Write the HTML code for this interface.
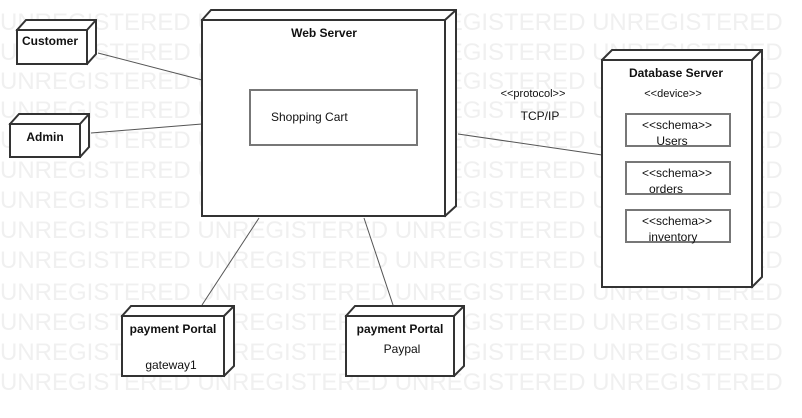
<!DOCTYPE html>
<html><head><meta charset="utf-8"><style>body{margin:0;background:#fff}svg{display:block}</style></head><body>
<svg width="802" height="418" xmlns="http://www.w3.org/2000/svg" font-family="Liberation Sans, sans-serif">
<g fill="#f0f0f0" font-size="24">
<text x="0" y="30">UNREGISTERED UNREGISTERED UNREGISTERED UNREGISTERED</text>
<text x="0" y="60">UNREGISTERED UNREGISTERED UNREGISTERED UNREGISTERED</text>
<text x="0" y="89">UNREGISTERED UNREGISTERED UNREGISTERED UNREGISTERED</text>
<text x="0" y="118">UNREGISTERED UNREGISTERED UNREGISTERED UNREGISTERED</text>
<text x="0" y="148">UNREGISTERED UNREGISTERED UNREGISTERED UNREGISTERED</text>
<text x="0" y="178">UNREGISTERED UNREGISTERED UNREGISTERED UNREGISTERED</text>
<text x="0" y="208">UNREGISTERED UNREGISTERED UNREGISTERED UNREGISTERED</text>
<text x="0" y="238">UNREGISTERED UNREGISTERED UNREGISTERED UNREGISTERED</text>
<text x="0" y="268">UNREGISTERED UNREGISTERED UNREGISTERED UNREGISTERED</text>
<text x="0" y="300">UNREGISTERED UNREGISTERED UNREGISTERED UNREGISTERED</text>
<text x="0" y="330">UNREGISTERED UNREGISTERED UNREGISTERED UNREGISTERED</text>
<text x="0" y="360">UNREGISTERED UNREGISTERED UNREGISTERED UNREGISTERED</text>
<text x="0" y="390">UNREGISTERED UNREGISTERED UNREGISTERED UNREGISTERED</text>
</g>
<g stroke="#555" stroke-width="1" fill="none">
<line x1="98" y1="53" x2="202" y2="80"/>
<line x1="91" y1="133" x2="202" y2="124"/>
<line x1="458" y1="134" x2="602" y2="155"/>
<line x1="259" y1="218" x2="202" y2="305"/>
<line x1="364" y1="218" x2="393" y2="305"/>
</g>
<g stroke="#333" stroke-width="2" fill="#fff" stroke-linejoin="miter">
<path d="M17 30 L26 20 L96 20 L96 54 L87 64 Z"/><rect x="17" y="30" width="70" height="34"/><line x1="87" y1="30" x2="96" y2="20"/>
<path d="M10 124 L19 114 L89 114 L89 147 L80 157 Z"/><rect x="10" y="124" width="70" height="33"/><line x1="80" y1="124" x2="89" y2="114"/>
<path d="M202 20 L211 10 L456 10 L456 206 L445 216 Z"/><rect x="202" y="20" width="243" height="196"/><line x1="445" y1="20" x2="456" y2="10"/>
<path d="M602 60 L612 50 L762 50 L762 277 L752 287 Z"/><rect x="602" y="60" width="150" height="227"/><line x1="752" y1="60" x2="762" y2="50"/>
<path d="M122 316 L131 306 L234 306 L234 366 L224 376 Z"/><rect x="122" y="316" width="102" height="60"/><line x1="224" y1="316" x2="234" y2="306"/>
<path d="M346 316 L355 306 L464 306 L464 366 L454 376 Z"/><rect x="346" y="316" width="108" height="60"/><line x1="454" y1="316" x2="464" y2="306"/>
</g>
<g stroke="#777" stroke-width="2" fill="#fff">
<rect x="250" y="90" width="167" height="55"/>
<rect x="626" y="114" width="104" height="32"/>
<rect x="626" y="162" width="104" height="32"/>
<rect x="626" y="210" width="104" height="32"/>
</g>
<g fill="#111" font-size="12">
<text x="50" y="45" text-anchor="middle" font-weight="bold">Customer</text>
<text x="45" y="141" text-anchor="middle" font-weight="bold">Admin</text>
<text x="324" y="37" text-anchor="middle" font-weight="bold">Web Server</text>
<text x="271" y="121">Shopping Cart</text>
<text x="676" y="77" text-anchor="middle" font-weight="bold">Database Server</text>
<text x="673" y="97" text-anchor="middle" font-size="11">&lt;&lt;device&gt;&gt;</text>
<text x="533" y="97" text-anchor="middle" font-size="11">&lt;&lt;protocol&gt;&gt;</text>
<text x="540" y="120" text-anchor="middle">TCP/IP</text>
<text x="677" y="129" text-anchor="middle">&lt;&lt;schema&gt;&gt;</text>
<text x="672" y="145" text-anchor="middle">Users</text>
<text x="677" y="177" text-anchor="middle">&lt;&lt;schema&gt;&gt;</text>
<text x="666" y="193" text-anchor="middle">orders</text>
<text x="677" y="225" text-anchor="middle">&lt;&lt;schema&gt;&gt;</text>
<text x="673" y="241" text-anchor="middle">inventory</text>
<text x="173" y="333" text-anchor="middle" font-weight="bold">payment Portal</text>
<text x="171" y="369" text-anchor="middle">gateway1</text>
<text x="400" y="333" text-anchor="middle" font-weight="bold">payment Portal</text>
<text x="402" y="353" text-anchor="middle">Paypal</text>
</g>
</svg>
</body></html>
